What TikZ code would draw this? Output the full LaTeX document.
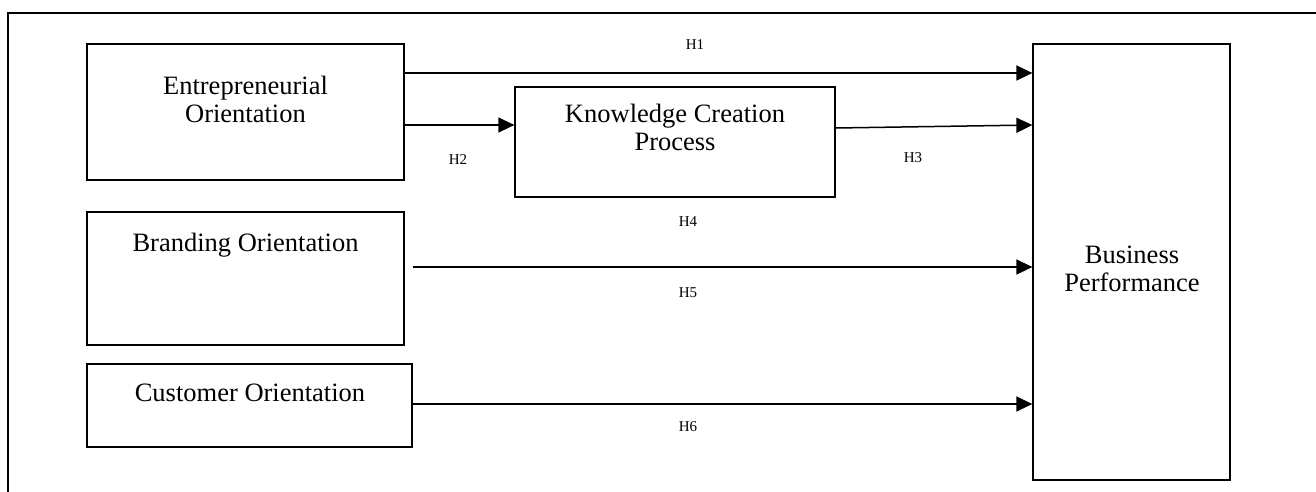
\documentclass[tikz,border=0pt]{standalone}
\usepackage{fontspec}
\setmainfont{Liberation Serif}
\usetikzlibrary{arrows.meta}
\begin{document}
\begin{tikzpicture}[x=1pt,y=-1pt,
  box/.style={draw,line width=1.3pt,inner sep=0pt,minimum width=#1},
  txt/.style={align=center,font=\fontsize{26.5}{28}\selectfont,inner sep=0pt},
  hlab/.style={font=\fontsize{15}{17}\selectfont,inner sep=0pt},
  arr/.style={line width=1.5pt,-{Triangle[length=16pt,width=15pt]}}]
\useasboundingbox (0,0) rectangle (1316,491);
\draw[line width=1.3pt] (8,495) -- (8,13) -- (1320,13);
% boxes
\node[box=317pt,minimum height=136pt] (eo) at (245.5,112) {};
\node[box=320pt,minimum height=110pt] (kc) at (675,142) {};
\node[box=317pt,minimum height=133pt] (bo) at (245.5,278.5) {};
\node[box=325pt,minimum height=83pt] (cu) at (249.5,405.5) {};
\node[box=197pt,minimum height=436pt] (bp) at (1131.5,262) {};
% texts
\node[txt] (eot) at (245.5,99) {Entrepreneurial\\Orientation};
\node[txt] (kct) at (675,127.5) {Knowledge Creation\\Process};
\node[txt] (bot) at (245.5,245) {Branding Orientation};
\node[txt] (cut) at (250,393) {Customer Orientation};
\node[txt] (bpt) at (1132,269) {Business\\Performance};
% connector heights
\coordinate (y1) at (0,73);
\coordinate (y2) at (0,125);
\coordinate (y3a) at (0,128);
\coordinate (y3b) at (0,125);
\coordinate (y5) at (0,267);
\coordinate (y6) at (0,404);
\draw[arr] (eo.east |- y1) -- (bp.west |- y1);
\draw[arr] (eo.east |- y2) -- (kc.west |- y2);
\draw[arr] (kc.east |- y3a) -- (bp.west |- y3b);
\draw[arr] ([xshift=8pt]bo.east |- y5) -- (bp.west |- y5);
\draw[arr] (cu.east |- y6) -- (bp.west |- y6);
% labels
\node[hlab] (h1) at (695,45) {H1};
\node[hlab] (h2) at (458,160) {H2};
\node[hlab] (h3) at (913,158) {H3};
\node[hlab] (h4) at (688,222) {H4};
\node[hlab] (h5) at (688,293) {H5};
\node[hlab] (h6) at (688,427) {H6};
\end{tikzpicture}
\end{document}
